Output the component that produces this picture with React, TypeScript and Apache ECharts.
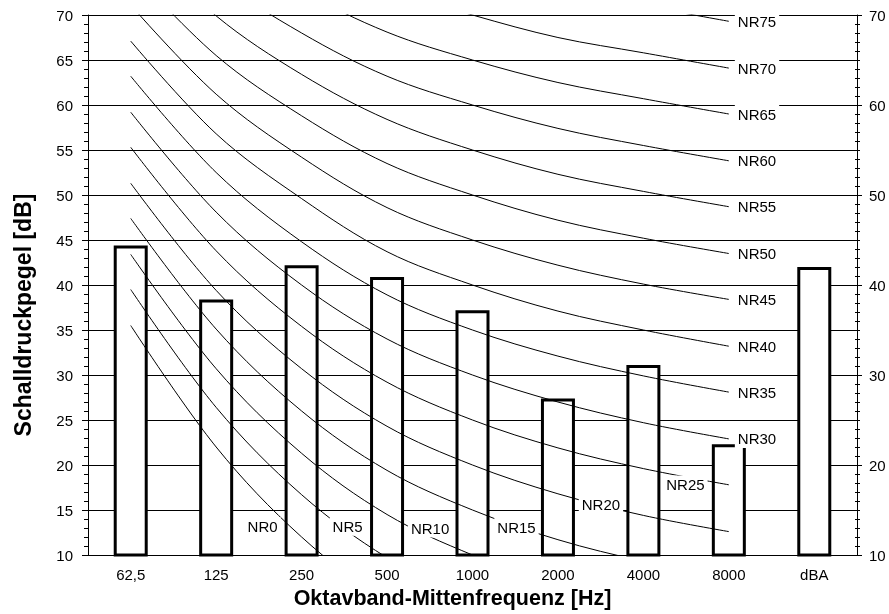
import React, { useEffect, useRef } from "react";
import * as echarts from "echarts";

const bands = ["62,5", "125", "250", "500", "1000", "2000", "4000", "8000", "dBA"];
const levels = [44.4, 38.4, 42.2, 40.9, 37.2, 27.4, 31.1, 22.3, 42.0];

// NR curves, values at 62,5 … 8000 Hz
const NR0 = [35.5, 22.0, 12.0, 4.8, 0, -3.5, -6.1, -8.0];
const NR5 = [39.5, 26.4, 16.7, 9.7, 5, 1.6, -1.0, -2.9];
const NR10 = [43.4, 30.7, 21.3, 14.5, 10, 6.6, 4.2, 2.3];
const NR15 = [47.4, 35.1, 26.0, 19.4, 15, 11.7, 9.3, 7.5];
const NR20 = [51.3, 39.4, 30.7, 24.3, 20, 16.8, 14.4, 12.6];
const NR25 = [55.3, 43.8, 35.4, 29.2, 25, 21.9, 19.6, 17.8];
const NR30 = [59.2, 48.1, 40.0, 34.0, 30, 27.0, 24.7, 22.9];
const NR35 = [63.2, 52.5, 44.8, 38.9, 35, 32.1, 29.9, 28.1];
const NR40 = [67.1, 56.8, 49.6, 43.7, 40, 37.1, 35.0, 33.2];
const NR45 = [71.1, 61.2, 54.2, 48.6, 45, 42.2, 40.1, 38.4];
const NR50 = [75.0, 65.5, 58.8, 53.5, 50, 47.2, 45.2, 43.5];
const NR55 = [79.0, 69.9, 63.4, 58.4, 55, 52.3, 50.4, 48.7];
const NR60 = [82.9, 74.2, 68.0, 63.2, 60, 57.4, 55.5, 53.8];
const NR65 = [86.9, 78.6, 72.7, 68.1, 65, 62.5, 60.7, 59.0];
const NR70 = [90.8, 82.9, 77.3, 72.9, 70, 67.5, 65.8, 64.1];
const NR75 = [94.8, 87.3, 82.0, 77.8, 75, 72.6, 71.0, 69.3];

const curveNames = ["NR0", "NR5", "NR10", "NR15", "NR20", "NR25", "NR30", "NR35", "NR40", "NR45", "NR50", "NR55", "NR60", "NR65", "NR70", "NR75"];
const curves = [NR0, NR5, NR10, NR15, NR20, NR25, NR30, NR35, NR40, NR45, NR50, NR55, NR60, NR65, NR70, NR75];

const yTicksLeft = [10, 70, 5];
const yTicksRight = [10, 70, 10];

const FONT = "'Liberation Sans', Arial, sans-serif";

// label placement for curves whose end is below the plot
const innerLabels: Record<string, { idx: number; offset: [number, number] }> = {
  NR0: { idx: 2, offset: [-39, -11] },
  NR5: { idx: 2, offset: [46, 32] },
  NR10: { idx: 3, offset: [43, 14] },
  NR15: { idx: 4, offset: [44, 17] },
  NR20: { idx: 5, offset: [43, 11] },
  NR25: { idx: 6, offset: [42, 16] },
};

export default function App() {
  const ref = useRef<HTMLDivElement>(null);
  useEffect(() => {
    if (!ref.current) return;
    const chart = echarts.init(ref.current, undefined, { renderer: "svg" });
    const labelBase = {
      color: "#000",
      fontSize: 15,
      fontFamily: FONT,
      backgroundColor: "#fff",
      padding: [2, 3, 1, 3],
    };
    const lineSeries = curves.map((c, i) => {
      const name = curveNames[i];
      const inner = innerLabels[name];
      const s: any = {
        type: "line",
        name,
        data: c,
        smooth: 0.35,
        symbol: "none",
        clip: true,
        z: 3,
        lineStyle: { color: "#000", width: 1 },
        emphasis: { disabled: true },
      };
      if (inner) {
        s.markPoint = {
          symbol: "circle",
          symbolSize: 0,
          silent: true,
          z: 5,
          label: { show: true, position: "inside", formatter: name, offset: inner.offset, ...labelBase },
          data: [{ coord: [inner.idx, c[inner.idx]] }],
        };
      } else {
        s.endLabel = { show: true, formatter: "{a}", distance: 6, ...labelBase };
      }
      return s;
    });
    chart.setOption({
      animation: false,
      textStyle: { fontFamily: FONT },
      grid: { left: 88, right: 32, top: 15, bottom: 59, containLabel: false },
      xAxis: {
        type: "category",
        data: bands,
        boundaryGap: true,
        axisLine: { lineStyle: { color: "#000", width: 1 } },
        axisTick: { show: false },
        axisLabel: { color: "#000", fontSize: 15, margin: 12, fontFamily: FONT },
        name: "Oktavband-Mittenfrequenz [Hz]",
        nameLocation: "middle",
        nameGap: 31,
        nameTextStyle: { color: "#000", fontSize: 21.5, fontWeight: "bold", fontFamily: FONT, padding: [0, 40, 0, 0] },
      },
      yAxis: [
        {
          type: "value",
          min: yTicksLeft[0],
          max: yTicksLeft[1],
          interval: yTicksLeft[2],
          position: "left",
          axisLine: { show: true, lineStyle: { color: "#000", width: 1 } },
          axisTick: { show: true, length: 6, lineStyle: { color: "#000" } },
          minorTick: { show: true, splitNumber: 5, length: 4, lineStyle: { color: "#000" } },
          axisLabel: { color: "#000", fontSize: 15, margin: 15, fontFamily: FONT },
          splitLine: { show: true, lineStyle: { color: "#000", width: 1 } },
          name: "Schalldruckpegel [dB]",
          nameLocation: "middle",
          nameRotate: 90,
          nameGap: 54,
          nameTextStyle: { color: "#000", fontSize: 23, fontWeight: "bold", fontFamily: FONT, padding: [0, 60, 0, 0] },
        },
        {
          type: "value",
          min: yTicksRight[0],
          max: yTicksRight[1],
          interval: yTicksRight[2],
          position: "right",
          axisLine: { show: true, lineStyle: { color: "#000", width: 1 } },
          axisTick: { show: true, length: 5, lineStyle: { color: "#000" } },
          minorTick: { show: true, splitNumber: 10, length: 3, lineStyle: { color: "#000" } },
          axisLabel: { color: "#000", fontSize: 15, margin: 12, fontFamily: FONT },
          splitLine: { show: false },
        },
        {
          type: "value",
          min: yTicksRight[0],
          max: yTicksRight[1],
          interval: yTicksRight[2],
          position: "right",
          axisLine: { show: false },
          axisTick: { show: true, inside: true, length: 2, lineStyle: { color: "#000" } },
          minorTick: { show: true, splitNumber: 10, length: 2, lineStyle: { color: "#000" } },
          axisLabel: { show: false },
          splitLine: { show: false },
        },
      ],
      series: [
        {
          type: "bar",
          name: "Pegel",
          data: levels,
          barWidth: 34,
          z: 2,
          itemStyle: { color: "#fff", borderColor: "#000", borderWidth: 3 },
          emphasis: { disabled: true },
        },
        ...lineSeries,
      ],
    });
    return () => chart.dispose();
  }, []);
  return <div ref={ref} style={{ position: "fixed", left: 0, top: 0, width: 889, height: 614 }} />;
}
